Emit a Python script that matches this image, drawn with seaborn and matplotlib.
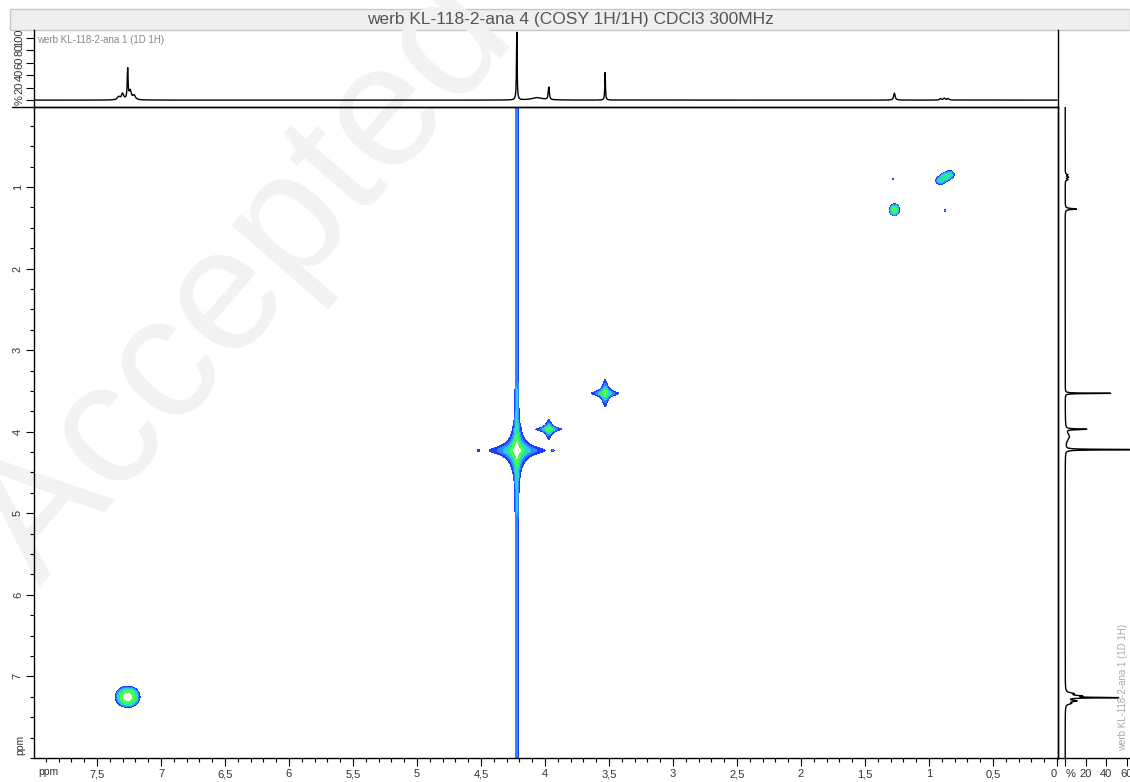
import numpy as np
import pandas as pd
import matplotlib
matplotlib.use("Agg")
import matplotlib.pyplot as plt
from matplotlib.patches import Rectangle
from matplotlib.lines import Line2D
from matplotlib.ticker import MultipleLocator, FixedLocator, FuncFormatter
import seaborn as sns

# ---------------- data ----------------
title = "werb KL-118-2-ana 4 (COSY 1H/1H) CDCl3 300MHz"
proj_label = "werb KL-118-2-ana 1 (1D 1H)"
watermark = "Accepted"

# 1D 1H projection peaks (ppm, % height, half width ppm)
peak_shift = [7.33, 7.30, 7.26, 7.24, 7.21, 4.22, 4.06, 3.97, 3.53, 1.27, 0.91, 0.88, 0.85]
peak_height = [5, 10, 48, 14, 7, 108, 4, 20, 44, 11, 2.5, 3, 2.5]
peak_hwhm = [0.012, 0.01, 0.004, 0.01, 0.012, 0.003, 0.05, 0.005, 0.003, 0.007, 0.008, 0.008, 0.008]

# COSY 2D peaks: F2 (x), F1 (y), amplitude, widths, lineshape
cosy_f2 = [7.26, 4.22, 3.97, 3.53, 1.27, 0.91, 0.875, 0.84, 3.94, 4.52, 1.28, 0.875]
cosy_f1 = [7.25, 4.23, 3.97, 3.53, 1.28, 0.92, 0.88, 0.85, 4.23, 4.23, 0.90, 1.29]
cosy_amp = [70, 280, 45, 60, 30, 8, 12, 8, 1.8, 1.5, 1.6, 2.2]
cosy_wf2 = [0.033, 0.013, 0.015, 0.014, 0.015, 0.018, 0.018, 0.018, 0.006, 0.006, 0.004, 0.006]
cosy_wf1 = [0.045, 0.043, 0.018, 0.022, 0.028, 0.024, 0.024, 0.024, 0.010, 0.010, 0.008, 0.010]
cosy_shape = ["G", "L", "L", "L", "G", "G", "G", "G", "G", "G", "G", "G"]

# t1-noise ridge
streak_f2 = 4.22
streak_amp = 3.2
streak_width = 0.0075

contour_levels = [1, 2, 4, 8, 16, 32]
contour_colors = ["#1f3dff", "#2f86ff", "#2ec8f0", "#27e88a", "#47ff4a"]

x_ticks = [0, 0.5, 1, 1.5, 2, 2.5, 3, 3.5, 4, 4.5, 5, 5.5, 6, 6.5, 7, 7.5]
y_ticks = [1, 2, 3, 4, 5, 6, 7]
top_ticks = [0, 20, 40, 60, 80, 100]
top_labels = ["%", "20", "40", "60", "80", "100"]
right_ticks = [0, 20, 40, 60]
right_labels = ["%", "20", "40", "60"]

# ---------------- build curves ----------------
ppm = np.linspace(0, 8, 8001)
spec = np.zeros_like(ppm)
for s, h, w in zip(peak_shift, peak_height, peak_hwhm):
    spec += h / (1 + ((ppm - s) / w) ** 2)
df1 = pd.DataFrame({"ppm": ppm, "intensity": spec})

gx = np.linspace(0, 8, 1700)
gy = np.linspace(0, 8, 1400)
X, Y = np.meshgrid(gx, gy)
Z = streak_amp * np.exp(-0.5 * ((X - streak_f2) / streak_width) ** 2)
for cx, cy, a, wx, wy, sh in zip(cosy_f2, cosy_f1, cosy_amp, cosy_wf2, cosy_wf1, cosy_shape):
    if sh == "L":
        Z += a / ((1 + ((X - cx) / wx) ** 2) * (1 + ((Y - cy) / wy) ** 2))
    else:
        Z += a * np.exp(-0.5 * ((X - cx) / wx) ** 2 - 0.5 * ((Y - cy) / wy) ** 2)

# ---------------- figure ----------------
sns.set_theme(style="white")
plt.rcParams["font.family"] = ["Liberation Sans", "DejaVu Sans"]
W, H = 1130, 782
fig = plt.figure(figsize=(W / 100, H / 100), dpi=100)
fig.patch.set_facecolor("white")

def fx(p):
    return p / W

def fy(p):
    return 1 - p / H

tick_color = "#333333"

# watermark and title bar
fig.patches.append(Rectangle((fx(10), fy(30)), fx(1130 - 10), (30 - 9) / H, transform=fig.transFigure,
                             facecolor="#efefef", edgecolor="#c8c8c8", lw=1, zorder=-20))
fig.text(fx(245), fy(283), watermark, fontsize=126, rotation=49, color="#f2f2f2",
         ha="center", va="center", rotation_mode="anchor", zorder=-10)
fig.text(fx(570), fy(19.5), title, fontsize=12.5, color="#555555", ha="center", va="center")

XL = (7.992, -0.008)
YL = (8.0, 0.02)

# main 2D axes
ax = fig.add_axes([fx(34), fy(758), fx(1058 - 34), (758 - 107) / H])
ax.set_facecolor("none")
ax.contourf(X, Y, Z, levels=contour_levels, colors=contour_colors)
ax.set_xlim(*XL)
ax.set_ylim(*YL)
ax.xaxis.set_major_locator(FixedLocator(x_ticks))
ax.xaxis.set_minor_locator(MultipleLocator(0.1))
ax.yaxis.set_major_locator(FixedLocator(y_ticks))
ax.yaxis.set_minor_locator(MultipleLocator(0.25))
fmt = FuncFormatter(lambda v, p: ("%g" % v).replace(".", ","))
ax.xaxis.set_major_formatter(fmt)
ax.yaxis.set_major_formatter(fmt)
ax.tick_params(axis="both", which="major", direction="out", length=6, width=0.8, color="black",
               labelsize=8, labelcolor=tick_color, pad=2, bottom=True, left=True)
ax.tick_params(axis="both", which="minor", direction="out", length=3, width=0.8, color="black",
               bottom=True, left=True)
for lab in ax.get_yticklabels():
    lab.set_rotation(90)
    lab.set_va("center")
xlabs = ax.get_xticklabels()
xlabs[0].set_ha("right")
for s in ax.spines.values():
    s.set_color("black")
    s.set_linewidth(1)
ax.set_xlabel("")
ax.set_ylabel("")
fig.text(fx(38), fy(772), "ppm", fontsize=7.5, color=tick_color, ha="left", va="center")
fig.text(fx(20), fy(745), "ppm", fontsize=7.5, color=tick_color, ha="center", va="center", rotation=90)

# top 1D projection
axt = fig.add_axes([fx(34), fy(107), fx(1058 - 34), (107 - 30) / H])
axt.set_facecolor("none")
sns.lineplot(data=df1, x="ppm", y="intensity", ax=axt, color="black", lw=1, estimator=None, sort=False)
axt.set_xlim(*XL)
axt.set_ylim(-11, 112)
axt.set_xticks([])
axt.set_yticks(top_ticks)
axt.set_yticklabels(top_labels, rotation=90, va="center")
axt.tick_params(axis="y", direction="out", length=6, width=0.8, color="black", labelsize=8,
                labelcolor=tick_color, pad=1, left=True)
axt.set_xlabel("")
axt.set_ylabel("")
axt.spines["top"].set_visible(False)
for k in ["left", "right", "bottom"]:
    axt.spines[k].set_color("black")
    axt.spines[k].set_linewidth(1)
axt.text(0.003, 0.93, proj_label, transform=axt.transAxes, fontsize=7, color="#888888", ha="left", va="top")
fig.lines.append(Line2D([fx(12), fx(34)], [fy(107), fy(107)], transform=fig.transFigure, color="black", lw=1))

# right 1D projection
axr = fig.add_axes([fx(1058), fy(758), fx(W - 1058), (758 - 107) / H])
axr.set_facecolor("none")
sns.lineplot(data=df1, x="intensity", y="ppm", ax=axr, color="black", lw=1, estimator=None, sort=False, orient="y")
axr.set_ylim(*YL)
axr.set_xlim(-7, 63)
axr.set_yticks([])
axr.set_xticks(right_ticks)
axr.set_xticklabels(right_labels)
axr.tick_params(axis="x", direction="out", length=6, width=0.8, color="black", labelsize=8,
                labelcolor=tick_color, pad=2, bottom=True)
rlabs = axr.get_xticklabels()
rlabs[0].set_ha("left")
axr.set_xlabel("")
axr.set_ylabel("")
axr.spines["top"].set_visible(False)
axr.spines["right"].set_visible(False)
for k in ["left", "bottom"]:
    axr.spines[k].set_color("black")
    axr.spines[k].set_linewidth(1)
axr.text(0.97, 0.01, proj_label, transform=axr.transAxes, fontsize=7, color="#aaaaaa",
         ha="right", va="bottom", rotation=90)

fig.savefig("out.png", dpi=100, facecolor="white")
